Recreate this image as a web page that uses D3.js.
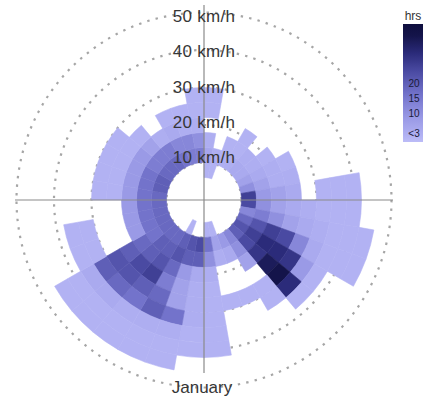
<!DOCTYPE html>
<html><head><meta charset="utf-8">
<script src="https://cdn.jsdelivr.net/npm/d3@7"></script>
<style>
html,body{margin:0;padding:0;background:#fff;}
svg{display:block;font-family:"Liberation Sans",Arial,sans-serif;}
</style></head>
<body>
<svg id="chart" width="433" height="408"></svg>
<script>
// Direction bins (compass degrees, start of each 10° sector)
const directions = d3.range(0, 360, 10);
// Speed bins (km/h) lower/upper edges
const speedEdges = [6, 10, 14, 18, 22, 26, 30, 34, 38, 42, 46];
// Hours of wind per direction (index = direction bin) for each speed bin
const hrs06 = [2,2,0,0,0,0,0,0,0,0,0,0,0,0,0,0,2,2,0,0,2,0,0,0,0,0,0,0,0,0,0,0,0,0,0,0];
const hrs10 = [5,3,3,3,4,4,6,10,26,24,12,18,22,20,12,8,6,16,24,22,20,18,18,18,18,18,18,18,20,20,18,18,18,16,14,14];
const hrs14 = [3,0,2,2,3,3,4,6,8,10,14,22,26,24,10,4,3,10,20,20,22,20,20,16,16,16,16,16,16,16,14,14,14,12,12,10];
const hrs18 = [0,0,0,2,0,2,3,3,6,6,10,26,30,28,6,0,0,3,4,8,18,22,20,18,8,8,8,8,8,8,8,6,3,4,3,3];
const hrs22 = [2,0,0,0,0,0,2,3,4,4,6,24,30,34,0,0,0,2,3,6,14,26,24,20,0,0,0,2,2,2,2,2,0,2,2,2];
const hrs26 = [2,0,0,0,0,0,0,0,0,3,4,12,28,36,2,2,2,2,3,6,18,20,22,22,0,0,0,2,2,2,2,0,0,0,0,2];
const hrs30 = [0,0,0,0,0,0,0,0,2,2,3,4,8,30,2,0,0,2,3,16,20,16,18,20,2,2,0,0,0,0,0,0,0,0,0,0];
const hrs34 = [0,0,0,0,0,0,0,0,2,2,2,2,2,2,0,0,0,2,2,3,3,3,4,4,2,2,0,0,0,0,0,0,0,0,0,0];
const hrs38 = [0,0,0,0,0,0,0,0,2,2,2,2,0,0,0,0,0,2,2,2,2,2,2,2,0,0,0,0,0,0,0,0,0,0,0,0];
const hrs42 = [0,0,0,0,0,0,0,0,0,0,2,2,0,0,0,0,0,0,0,2,2,2,2,2,0,0,0,0,0,0,0,0,0,0,0,0];
const speedRings = [10, 20, 30, 40, 50];
const ringLabels = ["10 km/h","20 km/h","30 km/h","40 km/h","50 km/h"];
const legendTicks = [3, 10, 15, 20];
const legendTickLabels = ["<3","10","15","20"];
const monthLabel = "January";

const rows = [hrs06, hrs10, hrs14, hrs18, hrs22, hrs26, hrs30, hrs34, hrs38, hrs42];

const svg = d3.select("#chart");
const cx = 204, cy = 200;
const r = d3.scaleLinear().domain([0, 50]).range([0, 187.5]);
const color = d3.scaleLinear()
  .domain([0, 2, 8, 16, 24, 30, 36, 40])
  .range(["#bcbcf7","#b2b2f3","#9a9ae6","#7373cb","#4a4aa2","#2b2b7a","#14144a","#0e0e3e"])
  .clamp(true);

const g = svg.append("g").attr("transform", `translate(${cx},${cy})`);

// dotted rings
g.selectAll("circle.ring").data(speedRings).enter().append("circle")
  .attr("class","ring").attr("r", d => r(d))
  .attr("fill","none").attr("stroke","#a6a6a6").attr("stroke-width",2.2)
  .attr("stroke-dasharray","2.4,6.2");

// cells
const cells = [];
rows.forEach((row, j) => row.forEach((v, i) => {
  if (v > 0) cells.push({dir: directions[i], v0: speedEdges[j], v1: speedEdges[j+1], v});
}));
const toRad = Math.PI / 180;
const arc = d3.arc()
  .innerRadius(d => r(d.v0)).outerRadius(d => r(d.v1))
  .startAngle(d => d.dir * toRad).endAngle(d => (d.dir + 10) * toRad);
g.selectAll("path.cell").data(cells).enter().append("path")
  .attr("class","cell").attr("d", arc)
  .attr("fill", d => color(d.v)).attr("stroke", d => color(d.v)).attr("stroke-width", 0.6);

// axes lines
g.append("line").attr("x1", -r(50.4)).attr("x2", r(50.4)).attr("y1",0).attr("y2",0)
  .attr("stroke","#8a8a8a").attr("stroke-width",1.2);
g.append("line").attr("x1",0).attr("x2",0).attr("y1",-195).attr("y2",173)
  .attr("stroke","#8a8a8a").attr("stroke-width",1.2);

// ring labels
const labelY = d3.scaleLinear().domain([10, 50]).range([163, 22]);
svg.selectAll("text.rl").data(speedRings).enter().append("text")
  .attr("class","rl").attr("x", cx).attr("y", d => labelY(d))
  .attr("text-anchor","middle").attr("font-size",17).attr("letter-spacing","0.3")
  .attr("fill","#363636").text((d,i) => ringLabels[i]);

// month label
svg.append("text").attr("x", 202).attr("y", 393).attr("text-anchor","middle")
  .attr("font-size",17).attr("fill","#363636").text(monthLabel);

// legend
const defs = svg.append("defs");
const grad = defs.append("linearGradient").attr("id","lg").attr("x1",0).attr("x2",0).attr("y1",0).attr("y2",1);
const ly = d3.scaleLinear().domain([0, 40]).range([142, 24]);
d3.range(40, -1, -2).forEach(v => {
  grad.append("stop").attr("offset", (ly(v) - 24) / (142 - 24)).attr("stop-color", color(v));
});
svg.append("rect").attr("x",403).attr("y",24).attr("width",20).attr("height",118).attr("fill","url(#lg)");
svg.append("text").attr("x",413).attr("y",20).attr("text-anchor","middle")
  .attr("font-size",12).attr("fill","#333").text("hrs");
svg.selectAll("text.lt").data(legendTicks).enter().append("text")
  .attr("class","lt").attr("x",414).attr("y", d => ly(d) + 4)
  .attr("text-anchor","middle").attr("font-size",10).attr("fill","#1a1a3a")
  .text((d,i) => legendTickLabels[i]);
</script>
</body></html>
